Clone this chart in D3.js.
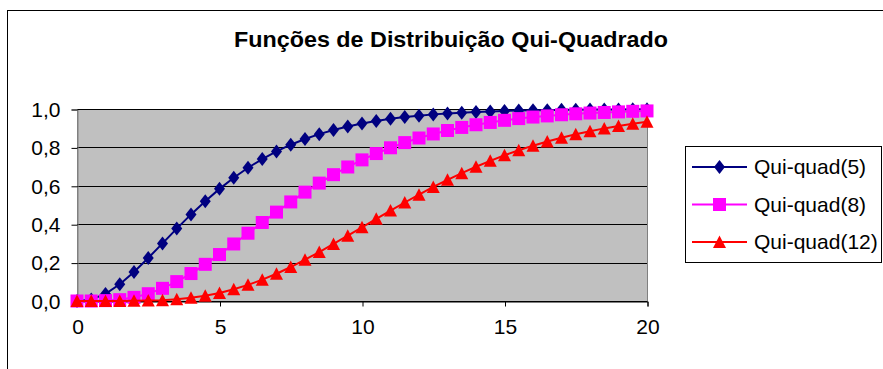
<!DOCTYPE html>
<html>
<head>
<meta charset="utf-8">
<script src="https://cdn.jsdelivr.net/npm/d3@7"></script>
<style>
  html, body { margin: 0; padding: 0; background: #fff; }
  svg { display: block; font-family: "Liberation Sans", Arial, sans-serif; }
</style>
</head>
<body>
<svg id="chart" width="883" height="369"></svg>
<script>
// x values of the chi-square distribution functions (step 0.5)
const xValues = d3.range(0, 20.001, 0.5);

// cumulative probabilities for 5, 8 and 12 degrees of freedom
const quiQuad5 = [0.000,0.008,0.037,0.087,0.151,0.224,0.300,0.377,0.451,0.520,
  0.584,0.642,0.694,0.739,0.779,0.814,0.844,0.869,0.891,0.909,
  0.925,0.938,0.949,0.958,0.965,0.972,0.977,0.981,0.984,0.987,
  0.990,0.992,0.993,0.994,0.996,0.996,0.997,0.998,0.998,0.999,0.999];
const quiQuad8 = [0.000,0.000,0.002,0.007,0.019,0.038,0.066,0.101,0.143,0.191,
  0.242,0.297,0.353,0.409,0.463,0.516,0.567,0.614,0.658,0.698,
  0.735,0.768,0.798,0.825,0.849,0.870,0.888,0.904,0.918,0.930,
  0.941,0.950,0.958,0.964,0.970,0.975,0.979,0.982,0.985,0.988,0.990];
const quiQuad12 = [0.000,0.000,0.000,0.000,0.001,0.002,0.004,0.009,0.017,0.027,
  0.042,0.061,0.084,0.111,0.142,0.177,0.215,0.255,0.297,0.340,
  0.384,0.428,0.471,0.513,0.554,0.594,0.631,0.666,0.699,0.730,
  0.759,0.785,0.809,0.831,0.850,0.868,0.884,0.899,0.912,0.923,0.933];

const seriesNames = ["Qui-quad(5)", "Qui-quad(8)", "Qui-quad(12)"];
const seriesColors = ["#000080", "#FF00FF", "#FF0000"];
const seriesShapes = ["diamond", "square", "triangle"];
const seriesValues = [quiQuad5, quiQuad8, quiQuad12];

const xTicks = [0, 5, 10, 15, 20];
const yTicks = [0, 0.2, 0.4, 0.6, 0.8, 1.0];
const titleText = "Funções de Distribuição Qui-Quadrado";

const svg = d3.select("#chart");

// chart area frame
svg.append("rect")
  .attr("x", 7.5).attr("y", 10.5)
  .attr("width", 900).attr("height", 400)
  .attr("fill", "#fff").attr("stroke", "#000").attr("stroke-width", 1);

const plot = { left: 77, right: 647, top: 109, bottom: 301 };
const x = d3.scaleLinear().domain([0, 20]).range([plot.left, plot.right]);
const y = d3.scaleLinear().domain([0, 1]).range([plot.bottom, plot.top]);

// title
svg.append("text")
  .attr("x", 451).attr("y", 47)
  .attr("text-anchor", "middle")
  .attr("font-size", 22).attr("font-weight", "bold")
  .attr("textLength", 434).attr("lengthAdjust", "spacingAndGlyphs")
  .text(titleText);

// plot area
svg.append("rect")
  .attr("x", plot.left + 0.5).attr("y", plot.top + 0.5)
  .attr("width", plot.right - plot.left).attr("height", plot.bottom - plot.top)
  .attr("fill", "#C0C0C0").attr("stroke", "#808080").attr("stroke-width", 1);

// horizontal gridlines
svg.append("g").selectAll("line").data(yTicks).join("line")
  .attr("x1", plot.left).attr("x2", plot.right)
  .attr("y1", d => Math.round(y(d)) + 0.5).attr("y2", d => Math.round(y(d)) + 0.5)
  .attr("stroke", "#000").attr("stroke-width", 1);

const commaFmt = d3.formatLocale({ decimal: ",", thousands: ".", grouping: [3], currency: ["", ""] });

// y axis
const yAxis = svg.append("g")
  .attr("transform", `translate(${plot.left + 0.5},0.5)`)
  .call(d3.axisLeft(y).tickValues(yTicks).tickSize(6).tickPadding(11)
    .tickFormat(commaFmt.format(".1f")));
yAxis.select(".domain").attr("stroke", "#808080");
yAxis.selectAll(".tick line").attr("stroke", "#000");
yAxis.selectAll("text").attr("font-size", 21).attr("fill", "#000")
  .attr("font-family", "Liberation Sans, Arial, sans-serif");

// x axis
const xAxis = svg.append("g")
  .attr("transform", `translate(0.5,${plot.bottom + 0.5})`)
  .call(d3.axisBottom(x).tickValues(xTicks).tickSize(5).tickPadding(13)
    .tickFormat(d3.format("d")));
xAxis.select(".domain").attr("stroke", "#000");
xAxis.selectAll(".tick line").attr("stroke", "#000");
xAxis.selectAll("text").attr("font-size", 21).attr("fill", "#000")
  .attr("font-family", "Liberation Sans, Arial, sans-serif");

// marker shapes
function markerPath(shape) {
  if (shape === "diamond") return "M0,-7L5.5,0L0,7L-5.5,0Z";
  if (shape === "square") return "M-6.5,-6.5H6.5V6.5H-6.5Z";
  return "M0,-6.5L6.5,6L-6.5,6Z";
}

const line = d3.line().x((d, i) => x(xValues[i])).y(d => y(d));

seriesValues.forEach((vals, s) => {
  const g = svg.append("g");
  g.append("path").datum(vals)
    .attr("d", line).attr("fill", "none")
    .attr("stroke", seriesColors[s]).attr("stroke-width", 2);
  g.selectAll("path.m").data(vals).join("path")
    .attr("class", "m")
    .attr("transform", (d, i) => `translate(${x(xValues[i])},${y(d)})`)
    .attr("d", markerPath(seriesShapes[s]))
    .attr("fill", seriesColors[s]);
});

// legend
const legend = svg.append("g");
legend.append("rect")
  .attr("x", 685.5).attr("y", 146.5).attr("width", 196).attr("height", 116)
  .attr("fill", "#fff").attr("stroke", "#000").attr("stroke-width", 1);
seriesNames.forEach((name, s) => {
  const cy = 167 + s * 37.5;
  legend.append("line")
    .attr("x1", 692).attr("x2", 747).attr("y1", cy).attr("y2", cy)
    .attr("stroke", seriesColors[s]).attr("stroke-width", 2);
  legend.append("path")
    .attr("transform", `translate(719.5,${cy})`)
    .attr("d", markerPath(seriesShapes[s]))
    .attr("fill", seriesColors[s]);
  legend.append("text")
    .attr("x", 754).attr("y", cy).attr("dy", "0.35em")
    .attr("font-size", 21)
    .text(name);
});
</script>
</body>
</html>
